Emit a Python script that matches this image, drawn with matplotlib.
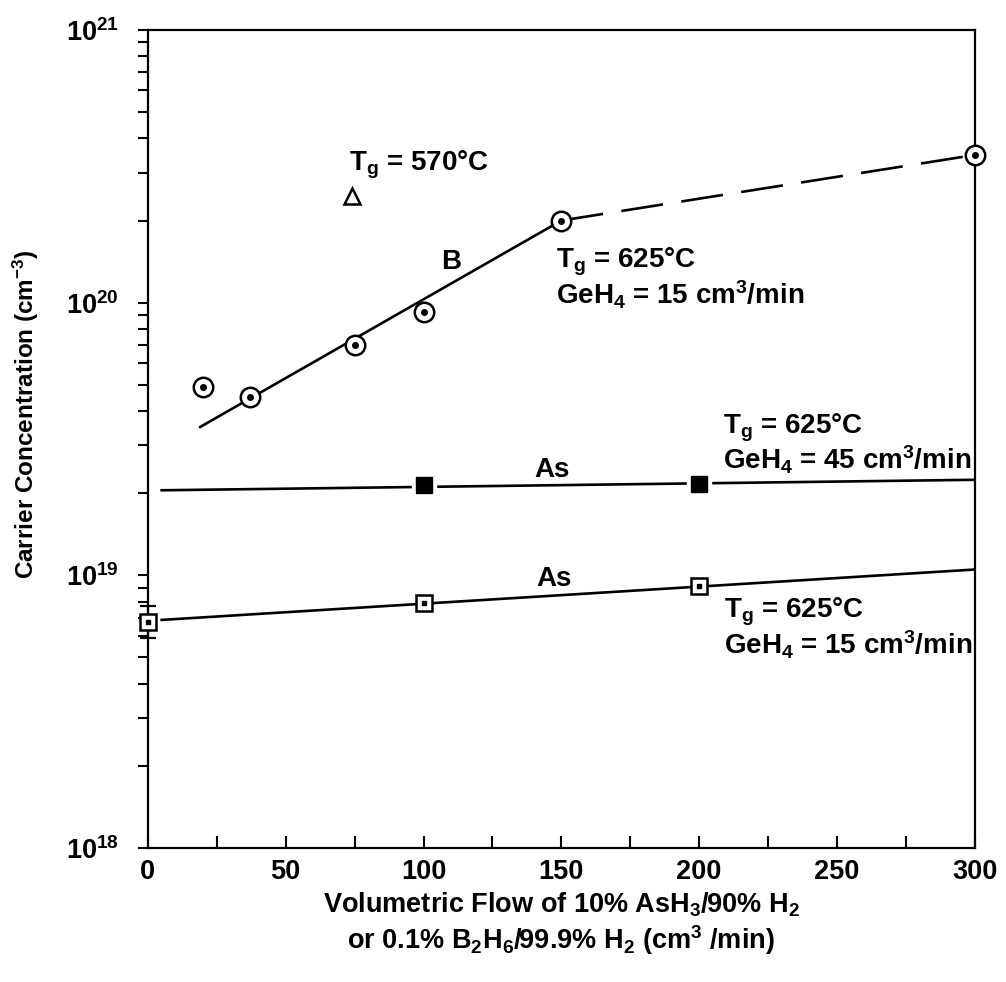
import matplotlib
matplotlib.use('Agg')
import matplotlib.pyplot as plt

# B doped (circles with a dot), Tg = 625 C, GeH4 = 15
b_flow = [20, 37, 75, 100, 150, 300]
b_conc = [4.9e19, 4.5e19, 7.0e19, 9.25e19, 2.0e20, 3.48e20]
b_fit_flow = [19, 150]
b_fit_conc = [3.5e19, 2.0e20]
b_ext_flow = [150, 300]
b_ext_conc = [2.0e20, 3.48e20]

# B at Tg = 570 C (triangle)
tri_flow = [74]
tri_conc = [2.46e20]

# As, GeH4 = 45 (filled squares)
as45_flow = [100, 200]
as45_conc = [2.14e19, 2.16e19]
as45_fit_flow = [5, 300]
as45_fit_conc = [2.05e19, 2.24e19]

# As, GeH4 = 15 (open squares with a dot)
as15_flow = [0, 100, 200]
as15_conc = [6.75e18, 7.9e18, 9.1e18]
as15_err_low = [0.85e18, 0, 0]
as15_err_high = [0.95e18, 0, 0]
as15_fit_flow = [5, 300]
as15_fit_conc = [6.86e18, 1.05e19]

x_major = [0, 50, 100, 150, 200, 250, 300]
x_minor = [25, 75, 125, 175, 225, 275]
y_major = [1e18, 1e19, 1e20, 1e21]
y_labels = [r'$10^{18}$', r'$10^{19}$', r'$10^{20}$', r'$10^{21}$']

plt.rcParams['font.family'] = 'Liberation Sans'
plt.rcParams['font.weight'] = 'bold'
plt.rcParams['mathtext.fontset'] = 'custom'
plt.rcParams['mathtext.rm'] = 'Liberation Sans:bold'
plt.rcParams['mathtext.it'] = 'Liberation Sans:bold'
plt.rcParams['mathtext.bf'] = 'Liberation Sans:bold'

fig = plt.figure(figsize=(10.06, 9.82), dpi=100)
ax = fig.add_axes([0.147, 0.1365, 0.822, 0.833])

lw = 1.9
ax.plot(b_fit_flow, b_fit_conc, color='black', lw=lw, zorder=2)
ax.plot(b_ext_flow, b_ext_conc, color='black', lw=lw, ls=(0, (16, 7)), zorder=2)
ax.plot(as45_fit_flow, as45_fit_conc, color='black', lw=lw, zorder=2)
ax.plot(as15_fit_flow, as15_fit_conc, color='black', lw=lw, zorder=2)

# circles with centre dot
ax.plot(b_flow, b_conc, 'o', ms=14, mfc='white', mec='black', mew=1.8,
        zorder=4, clip_on=False)
ax.plot(b_flow, b_conc, 'o', ms=4, color='black', zorder=5, clip_on=False)

ax.plot(tri_flow, tri_conc, '^', ms=11, mfc='white', mec='black', mew=1.8, zorder=4)

# filled squares with a white gap around them
ax.plot(as45_flow, as45_conc, 's', ms=17, color='white', zorder=3)
ax.plot(as45_flow, as45_conc, 's', ms=12, color='black', zorder=4)

# open squares with dot
ax.errorbar(as15_flow, as15_conc, yerr=[as15_err_low, as15_err_high], fmt='none',
            ecolor='black', elinewidth=1.6, capsize=6, capthick=1.6,
            zorder=3, clip_on=False)
ax.plot(as15_flow, as15_conc, 's', ms=12, mfc='white', mec='black', mew=1.8,
        zorder=4, clip_on=False)
ax.plot(as15_flow, as15_conc, 's', ms=3.5, color='black', zorder=5, clip_on=False)

ax.set_xlim(0, 300)
ax.set_yscale('log')
ax.set_ylim(1e18, 1e21)

ax.set_xticks(x_major)
ax.set_xticks(x_minor, minor=True)
ax.tick_params(axis='x', which='both', direction='in', length=9, width=1.5,
               labelsize=19.5, pad=8)
ax.set_yticks(y_major, labels=y_labels)
ax.tick_params(axis='y', which='both', direction='out', length=7, width=1.5,
               labelsize=19.5, pad=14)
for s in ax.spines.values():
    s.set_linewidth(1.6)

txt = dict(fontsize=20, fontweight='bold')
ax.text(73, 3.2e20, r'T$_g$ = 570°C', ha='left', va='center', **txt)
ax.text(110, 1.41e20, 'B', ha='center', va='center', **txt)
ax.text(148, 1.41e20, r'T$_g$ = 625°C', ha='left', va='center', **txt)
ax.text(148, 1.07e20, r'GeH$_4$ = 15 cm$^3$/min', ha='left', va='center', **txt)
ax.text(208.5, 3.47e19, r'T$_g$ = 625°C', ha='left', va='center', **txt)
ax.text(208.5, 2.65e19, r'GeH$_4$ = 45 cm$^3$/min', ha='left', va='center', **txt)
ax.text(146.5, 2.44e19, 'As', ha='center', va='center', **txt)
ax.text(147.5, 9.7e18, 'As', ha='center', va='center', **txt)
ax.text(209, 7.34e18, r'T$_g$ = 625°C', ha='left', va='center', **txt)
ax.text(209, 5.56e18, r'GeH$_4$ = 15 cm$^3$/min', ha='left', va='center', **txt)

ax.set_ylabel(r'Carrier Concentration (cm$^{-3}$)', fontsize=17.5, fontweight='bold')
ax.yaxis.set_label_coords(-0.129, 0.53)
ax.text(0.5, -0.0697, r'Volumetric Flow of 10% AsH$_3$/90% H$_2$',
        transform=ax.transAxes, ha='center', va='center', fontsize=19.5)
ax.text(0.5, -0.1125, r'or 0.1% B$_2$H$_6$/99.9% H$_2$ (cm$^3$ /min)',
        transform=ax.transAxes, ha='center', va='center', fontsize=19.5)

fig.savefig('out.png', dpi=100)
plt.close(fig)
